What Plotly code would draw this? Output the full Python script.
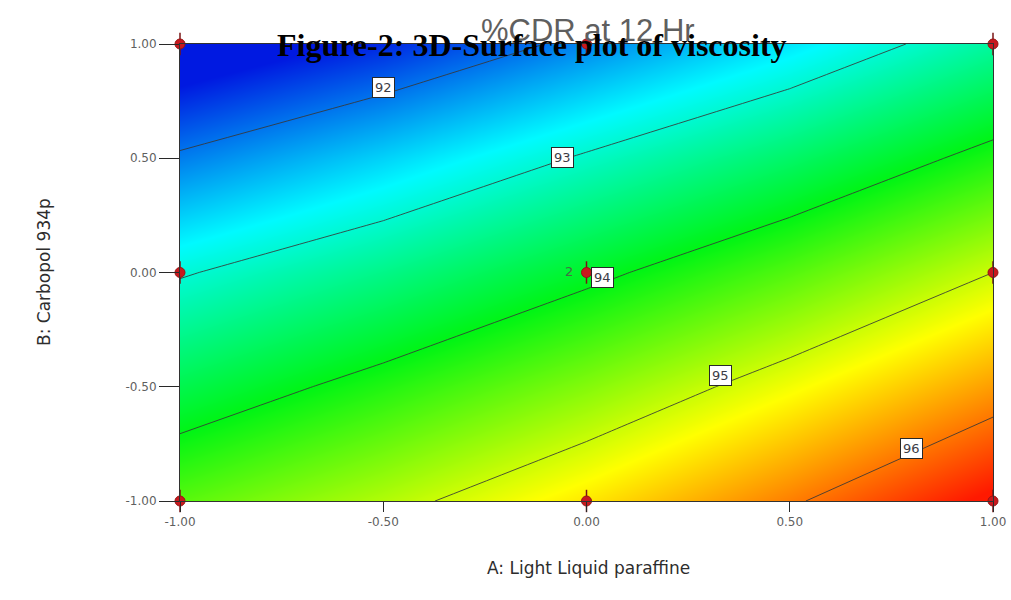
import plotly.graph_objects as go

# Coded factor levels
a_levels = [-1.0, -0.5, 0.0, 0.5, 1.0]   # A: Light Liquid paraffine
b_levels = [-1.0, -0.5, 0.0, 0.5, 1.0]   # B: Carbopol 934p

# %CDR at 12 Hr (rows: B from -1 to 1, cols: A from -1 to 1)
cdr_row_b_m100 = [94.43, 94.87, 95.38, 95.95, 96.58]
cdr_row_b_m050 = [93.70, 94.16, 94.65, 95.20, 95.79]
cdr_row_b_000 = [92.96, 93.39, 93.89, 94.41, 95.00]
cdr_row_b_050 = [92.06, 92.53, 93.05, 93.56, 94.14]
cdr_row_b_100 = [91.17, 91.58, 92.11, 92.64, 93.27]
cdr_grid = [cdr_row_b_m100, cdr_row_b_m050, cdr_row_b_000, cdr_row_b_050, cdr_row_b_100]

# Design points
design_a = [-1, 0, 1, -1, 0, 1, -1, 0, 1]
design_b = [1, 1, 1, 0, 0, 0, -1, -1, -1]

# Contour labels
label_values = ["92", "93", "94", "95", "96"]
label_a = [-0.50, -0.06, 0.04, 0.33, 0.80]
label_b = [0.81, 0.505, -0.02, -0.45, -0.77]

tick_vals = [-1.0, -0.5, 0.0, 0.5, 1.0]
tick_text = ["-1.00", "-0.50", "0.00", "0.50", "1.00"]

colorscale = [
    [0.0, "rgb(0,25,225)"],
    [0.25, "rgb(0,250,255)"],
    [0.5, "rgb(0,245,20)"],
    [0.75, "rgb(255,255,0)"],
    [1.0, "rgb(255,25,0)"],
]

fig = go.Figure()
fig.add_trace(go.Contour(
    x=a_levels, y=b_levels, z=cdr_grid,
    colorscale=colorscale, showscale=False,
    contours=dict(start=92, end=96, size=1, coloring="heatmap", showlabels=False),
    line=dict(color="rgba(55,55,55,0.85)", width=1, smoothing=0),
    hoverinfo="skip",
))

# Design points: vertical tick + red dot
fig.add_trace(go.Scatter(
    x=design_a, y=design_b, mode="markers",
    marker=dict(symbol="line-ns", size=16, line=dict(color="rgb(120,20,20)", width=1.5)),
    cliponaxis=False, showlegend=False, hoverinfo="skip",
))
fig.add_trace(go.Scatter(
    x=design_a, y=design_b, mode="markers",
    marker=dict(symbol="circle", size=10, color="rgb(200,25,30)",
                line=dict(color="rgb(150,20,20)", width=1)),
    cliponaxis=False, showlegend=False, hoverinfo="skip",
))

annotations = []
for val, xa, yb in zip(label_values, label_a, label_b):
    annotations.append(dict(
        x=xa, y=yb, xref="x", yref="y", text=val, showarrow=False,
        xanchor="center", yanchor="middle",
        font=dict(family="DejaVu Sans", size=13, color="rgb(60,60,70)"),
        bgcolor="white", bordercolor="rgb(40,40,40)", borderwidth=1, borderpad=2,
    ))
# replicate count at centre
annotations.append(dict(
    x=0, y=0, xref="x", yref="y", text="2", showarrow=False, xshift=-18, yshift=1,
    xanchor="center", yanchor="middle",
    font=dict(family="DejaVu Sans", size=13, color="rgb(70,110,70)"),
))

W, H = 1011, 600
L, R, T, B = 180, 18, 44, 99
pw, ph = W - L - R, H - T - B


def px_ann(px, py, text, font, angle=0):
    return dict(
        x=(px - L) / pw, y=(H - py - B) / ph, xref="paper", yref="paper",
        text=text, showarrow=False, xanchor="center", yanchor="middle",
        textangle=angle, font=font,
    )


annotations.append(px_ann(588, 30, "%CDR at 12 Hr",
                          dict(family="Liberation Sans, Arial", size=31, color="rgb(95,95,95)")))
annotations.append(px_ann(532, 45, "<b>Figure-2: 3D-Surface plot of viscosity</b>",
                          dict(family="Liberation Serif, Times New Roman", size=32, color="black")))
annotations.append(px_ann(588, 568, "A: Light Liquid paraffine",
                          dict(family="DejaVu Sans", size=17, color="rgb(45,45,45)")))
annotations.append(px_ann(44, 272, "B: Carbopol 934p",
                          dict(family="DejaVu Sans", size=17, color="rgb(45,45,45)"), angle=-90))

fig.update_layout(
    width=W, height=H,
    margin=dict(l=L, r=R, t=T, b=B, autoexpand=False),
    paper_bgcolor="white", plot_bgcolor="white",
    showlegend=False,
    annotations=annotations,
    font=dict(family="DejaVu Sans", size=12, color="rgb(90,90,90)"),
)
fig.update_xaxes(
    range=[-1, 1], tickvals=tick_vals, ticktext=tick_text, ticks="outside", ticklen=10,
    tickcolor="rgb(40,40,40)", showline=True, mirror=True, linecolor="rgb(50,50,50)",
    linewidth=1, showgrid=False, zeroline=False, automargin=False,
    tickfont=dict(size=12, color="rgb(95,95,95)"),
)
fig.update_yaxes(
    range=[-1, 1], tickvals=tick_vals, ticktext=tick_text, ticks="outside", ticklen=20,
    tickcolor="rgb(40,40,40)", showline=True, mirror=True, linecolor="rgb(50,50,50)",
    linewidth=1, showgrid=False, zeroline=False, automargin=False,
    tickfont=dict(size=12, color="rgb(95,95,95)"),
)

fig.write_html("out.html", config={"displayModeBar": False},
               post_script="document.body.style.margin='0';")
